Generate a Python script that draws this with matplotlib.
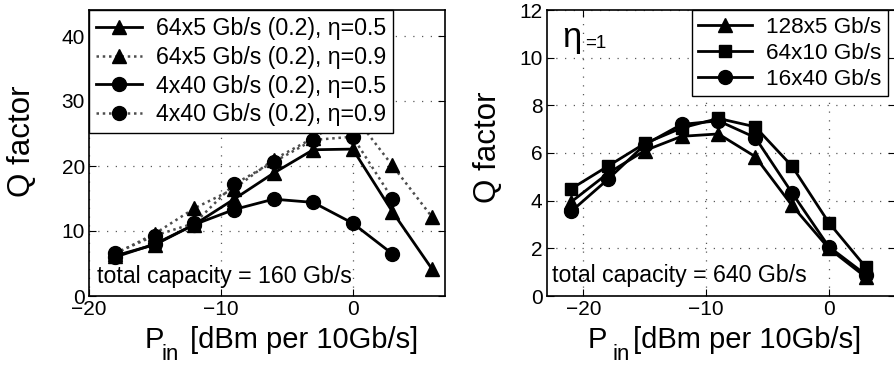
import matplotlib.pyplot as plt

plt.rcParams['font.family'] = ['Liberation Sans', 'DejaVu Sans']

# left panel: total capacity 160 Gb/s
x_left = [-18, -15, -12, -9, -6, -3, 0, 3, 6]
q_64x5_05 = [6.2, 7.9, 11.0, 14.9, 18.9, 22.5, 22.6, 13.0, 4.2]
q_64x5_09 = [6.5, 9.6, 13.5, 16.5, 21.0, 24.3, 28.0, 20.1, 12.2]
x_4x40 = [-18, -15, -12, -9, -6, -3, 0, 3]
q_4x40_05 = [6.0, 8.0, 11.0, 13.3, 14.9, 14.4, 11.2, 6.5]
q_4x40_09 = [6.6, 9.3, 11.2, 17.2, 20.6, 24.0, 24.5, 15.0]

# right panel: total capacity 640 Gb/s, eta = 1
x_right = [-21, -18, -15, -12, -9, -6, -3, 0, 3]
q_128x5 = [3.95, 5.15, 6.1, 6.7, 6.8, 5.85, 3.8, 2.0, 0.8]
q_64x10 = [4.5, 5.45, 6.4, 7.05, 7.45, 7.1, 5.45, 3.08, 1.22]
q_16x40 = [3.55, 4.9, 6.35, 7.2, 7.35, 6.65, 4.33, 2.07, 0.9]

W, H = 895, 365
fig = plt.figure(figsize=(W / 100, H / 100), dpi=100)
ax1 = fig.add_axes([89 / W, 69 / H, 356 / W, 286 / H])
ax2 = fig.add_axes([546.7 / W, 69 / H, (W - 546.7) / W, 286 / H])

lw = 2.0
ms = 10
dot = dict(color='0.3', lw=1.8, ls=(0, (1, 1.5)), mfc='k', mec='k', ms=ms)
sol = dict(color='k', lw=lw, ls='-', ms=ms)

ax1.plot(x_left, q_64x5_05, marker='^', label='64x5 Gb/s (0.2), η=0.5', **sol)
ax1.plot(x_left, q_64x5_09, marker='^', label='64x5 Gb/s (0.2), η=0.9', **dot)
ax1.plot(x_4x40, q_4x40_05, marker='o', label='4x40 Gb/s (0.2), η=0.5', **sol)
ax1.plot(x_4x40, q_4x40_09, marker='o', label='4x40 Gb/s (0.2), η=0.9', **dot)
ax1.set_xlim(-20, 7)
ax1.set_ylim(0, 44)
ax1.set_xticks([-20, -10, 0])
ax1.set_yticks([0, 10, 20, 30, 40])
ax1.text(-19.4, 2.0, 'total capacity = 160 Gb/s', fontsize=16.7)

ax2.plot(x_right, q_128x5, marker='^', label='128x5 Gb/s', **sol)
ax2.plot(x_right, q_64x10, marker='s', label='64x10 Gb/s',
         **dict(sol, ms=ms - 1))
ax2.plot(x_right, q_16x40, marker='o', label='16x40 Gb/s', **sol)
ax2.set_xlim(-23, 5.4)
ax2.set_ylim(0, 12)
ax2.set_xticks([-20, -10, 0])
ax2.set_yticks([0, 2, 4, 6, 8, 10, 12])
ax2.text(-22.57, 0.59, 'total capacity = 640 Gb/s', fontsize=16.7)
ax2.text(-21.7, 10.45, 'η', fontsize=25)
ax2.text(-19.9, 10.4, '=1', fontsize=13.5)

for ax in (ax1, ax2):
    ax.grid(True, color='0.35', linestyle=(0, (1, 6)), linewidth=0.9)
    ax.tick_params(direction='in', top=True, right=True, length=5,
                   labelsize=15, pad=3)
    for s in ax.spines.values():
        s.set_linewidth(1.2)

# axis labels (MATLAB-like subscript placement)
for xp, xi, xb in [(145, 162, 190), (588, 613, 633)]:
    fig.text(xp / W, 17 / H, 'P', fontsize=21, va='baseline')
    fig.text(xi / W, 5 / H, 'in', fontsize=16, va='baseline')
    fig.text(xb / W, 17 / H, '[dBm per 10Gb/s]', fontsize=21, va='baseline')
fig.text(22 / W, 1 - 141 / H, 'Q factor', fontsize=22.5, rotation=90,
         ha='center', va='center')
fig.text(488 / W, 1 - 147 / H, 'Q factor', fontsize=22.5, rotation=90,
         ha='center', va='center')

leg1 = ax1.legend(loc='upper left', bbox_to_anchor=(0, 1), borderaxespad=0,
                  fontsize=16.7, fancybox=False, framealpha=1, edgecolor='k',
                  handlelength=2.0, handletextpad=0.6, labelspacing=0.25,
                  borderpad=0.3)
leg2 = ax2.legend(loc='upper right', bbox_to_anchor=(0.98, 1), borderaxespad=0,
                  fontsize=16.2, fancybox=False, framealpha=1, edgecolor='k',
                  handlelength=2.4, handletextpad=0.6, labelspacing=0.22,
                  borderpad=0.3)
for leg in (leg1, leg2):
    leg.get_frame().set_linewidth(1.0)

fig.savefig('out.png', dpi=100)
